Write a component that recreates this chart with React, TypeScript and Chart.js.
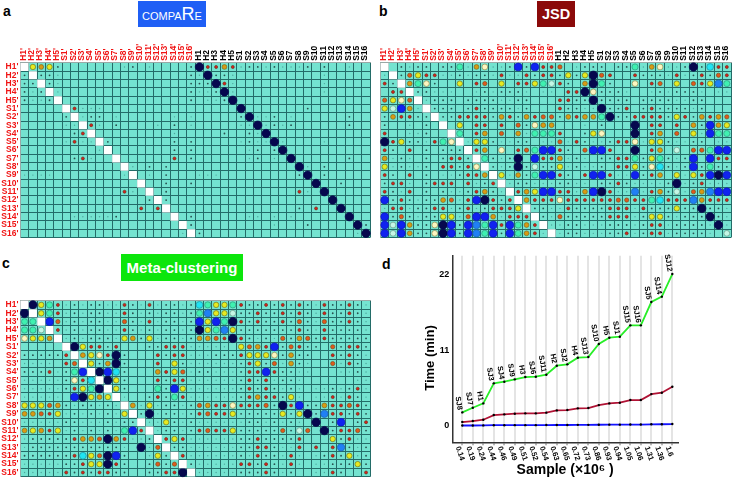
import React, { useEffect, useRef } from "react";
import { Chart, registerables } from "chart.js";

Chart.register(...registerables);

const FONT = '"Liberation Sans", Arial, sans-serif';
const baseNames = ["H1","H2","H3","H4","H5","S1","S2","S3","S4","S5","S6","S7","S8","S9","S10","S11","S12","S13","S14","S15","S16"];
const primeNames = baseNames.map((n) => n + "'");
const columnNames = [...primeNames, ...baseNames];

// Symbols in the rows, weakest to strongest. "." = empty, "#" = diagonal (white) cell.
const levelKeys = [",", ":", "r", "o", "O", "y", "w", "m", "g", "c", "l", "b", "n"];
const levelRadius = [0.7, 0.9, 1.5, 2.1, 2.4, 2.7, 2.9, 2.9, 3.1, 3.4, 3.7, 3.9, 4.2];
const levelColor = ["#4da79c", "#27504e", "#d8201a", "#e0581a", "#d89a12", "#e6ea20", "#fdf6c0", "#c4f7e6", "#3ff0b0", "#20e4f2", "#2080f4", "#1022f0", "#06084e"];
const levelBorder = ["#4da79c", "#27504e", "#70301c", "#805020", "#806a20", "#70781c", "#8a8a50", "#6a9a88", "#309a80", "#2090a0", "#1c60b0", "#1018c0", "#06084e"];

const compareRows = [
  "#yOy:.......,:.,....:|nrrOr,::,:,,,:.:..,..",
  ":#::,...............:|,n::,..........,.....",
  "::#:,...............:|::nr,..........,.....",
  ":,:#,...............:|,,:n,..........,.....",
  ":,,:#...............:|.,,:n................",
  ".....#r,,,...........|.....n.......:.......",
  ".....:#,::.,......,.,|.....:n,,:.,......:..",
  ".....,,#r,.:....,.:.,|.....,,n,:,:......:..",
  "......:r#.........,..|...:..:,n............",
  ".....,r,,#:.......:.:|.....,:,,n,....,.....",
  ".........,#.......:.:|......,:.:n..........",
  "......:r,..#......r.:|......,:.,.n......:..",
  "............#,.:.:...|............n,.:.....",
  ",,,,........,#.,.:...|,,,.........:n.:.....",
  "..............#..:..:|..............n..:...",
  "............r,.#.:...|............r,.n.....",
  "...............:#:...|................n....",
  "..............r.r#...|............:.r..n...",
  "......,,,,,:......#.:|......,,.,.,......n..",
  "...................#:|.........,...:.....n:",
  "...................,#|:..................,n",
];

const jsdRows = [
  "#.:,::.::g,Ow,,:b:brr|o.,:::.::g,Ow,,:n:crr",
  ",#:oyrr,,:,::,r,,r:rr|:y:ynor..r:::,r,:r:or",
  "r:#Ogw:..y.ro.y.rrygm|r:.Ong:..w.ro.y.orylg",
  ".rr#::,,,..,:,:::,.,,|.rrnw:::,..,:,:::,.,,",
  "oywo#,:::.::::,,::...|rr::n::::.::::,,::...",
  "ymbO,#:::.:r::::,:...|r::,,n::r.:r::::,:...",
  ":Orr::#::rrrr:Or:Oroo|:OrOOgn::rrrr:yr:OrOo",
  ":..,.:.#.y.rr.r.o:wOO|...,.:...n.rr.r.O:bOy",
  "r..,,:..#g.rO.o.O,ggg|r..:yw...n.rO.o.y,bgg",
  "nry::,rgw#,yy:,,::.,,|o,r:,,:rrw,yy:,,::.,,",
  "r:.r.:.:::#rO.w.rogbb|r:.obbr..n.rO.m.oogbb",
  "O,:,.:.:rr:#g:,:n.brr|O,:,.::rrg:yg:,:b.brr",
  "y,:,,:.rr:rw#:,:n:m::|y,:,,:.rry:wc:,:b:g::",
  "r:.r.:.,,:rrO#y,O:gbb|r:.rbbr,,b:rO.y,yrbnb",
  ":rr,.:rrr.r,:r#,::,,,|::,,.::r:,,,,:n,:r,,,",
  "r:,r.:.:,,:rO:,#rOybb|rr,Obnr,,l,rO:m,oOlbb",
  "b:r:,::Oo,rbnr:r#Orrr|wrrrrrroorrgcrrrlOrrr",
  ",rr,::rr,:r,:rrry#::,|,r::::rrr,r:::y::n::,",
  "b:o:,::yy,obbO,rrr#:,|o:::::rrr,:yy:,:::n:,",
  "bmbO::wnb:blgbrbgOr#,|,::,,,:::,:rr,::::,n,",
  "bmbO::wnb:blgb:bgOr,#|,::,,,::r,:rr,::::,.m",
];

const metaRows = [
  "#nygr,:,::,,r:,r,::,:|cgyygr::r:r:r:,r::r:,",
  "n#ygr,:,::,,r:,:,::,:|glyym::r::r:r:,r::r:,",
  "gg#bo,:,::,,o:,r,::,:|bybgnr:r::r:o:,o::r:,",
  "ggm#r,:,::,,r:,:,::,:|nygly:::::::r:,r::::,",
  "wyyO#,:,:::,yO:y,::,:|OOornr:,:,o:Oo:r:::::",
  ".....#nyrr:r...::rrr,|,,,,.yoOrb:or::.o:rr:",
  ":::::r#Oywrn:...r:rr,|,,:::ryyyw:O::..r:r:,",
  ",,,,.ro#y:On:...r.y:,|,,,,,:ry:o,O:,..o,r:,",
  ":::r,:gb#nbc:...Oryo,|::,,,:rrbr::,,...,,:,",
  ",,,,,:wrc#ny:...r:rr,|,,,,,:r:r,::,......,,",
  ",,,,,:rygn#y:...g:by,|,,,,,:r:r:,:,.,,:,:r,",
  ",,,,,.bnyOy#,..:r:gr,|,,,,,:rOrr:y,.,,r,r:,",
  "yyyoO:,::,:,#O,y,::,:|oOrrwrrro:nrb::Orror:",
  "OOory,:,:,:,y#:n,::,:|rorry:::::y:yn:lrr:r:",
  ",,,,,::,,,:,::#,,y:,:|,,,,,,::,:,:,.n.:b.:r",
  "OyOry,:,:,:,gbr#,::,:|rorry:::::o:mo.n:rro:",
  ",:::::rOOonOr,,:#ryr,|,,,,,::r::::r...y:r,,",
  ",:::::::::::,.n,o#::,|,,,,,::rr:,,r.r.rl:,:",
  "::::::rcyonb:..,y:#r,|,,,,,:,r::,r,.,:r:y,:",
  ",,,,,::ryynr:..:o:o#:|,,,,,rr:r:,r,.,,:::y:",
  ",,,,,r:r:rr::..::rrn#|,,,,,:::r:,:..,,r:..r",
];

// Panel d
const sampleSizes = ["0.14","0.19","0.24","0.44","0.46","0.49","0.51","0.52","0.54","0.63","0.65","0.72","0.73","0.86","0.93","0.94","1.05","1.06","1.31","1.36","1.6"];
const sampleNames = ["SJ8","SJ7","H1","SJ3","SJ4","SJ9","H3","SJ6","SJ11","H2","SJ2","H4","SJ13","SJ10","H5","SJ1","SJ15","SJ16","SJ5","SJ14","SJ12"];
const metaTime = [1.94,2.62,3.25,6.17,6.41,6.75,7.09,7.14,7.43,8.74,8.94,9.91,10.0,11.9,12.82,12.97,14.62,14.62,18.02,18.8,22.1];
const jsdTime = [0.53,0.68,0.87,1.55,1.65,1.75,1.8,1.8,1.9,2.23,2.28,2.53,2.57,3.0,3.25,3.35,3.74,3.74,4.6,4.8,5.68];
const compareTime = [0.03,0.03,0.04,0.07,0.07,0.08,0.08,0.08,0.09,0.1,0.1,0.12,0.12,0.14,0.15,0.15,0.17,0.17,0.2,0.21,0.24];
const timeTicks = [0, 11, 22];

const cellBackground = {
  id: "cellBackground",
  beforeDraw(chart: any) {
    const { ctx, chartArea: a } = chart;
    ctx.save();
    ctx.fillStyle = "#74e3d0";
    ctx.fillRect(a.left, a.top, a.right - a.left, a.bottom - a.top);
    ctx.restore();
  },
};

function matrixDatasets(rows: string[]) {
  const cells = rows.map((r) => r.replace("|", ""));
  const at = (key: string) => {
    const out: any[] = [];
    cells.forEach((row, j) =>
      row.split("").forEach((c, i) => {
        if (c === key) out.push({ x: columnNames[i], y: primeNames[j], r: key === "#" ? 5.7 : levelRadius[levelKeys.indexOf(key)] });
      })
    );
    return out;
  };
  return [
    { data: at("#"), pointStyle: "rect", backgroundColor: "#ffffff", borderColor: "#ffffff", borderWidth: 0 },
    ...levelKeys.map((key, k) => ({
      data: at(key),
      pointStyle: "circle",
      backgroundColor: levelColor[k],
      borderColor: levelBorder[k],
      borderWidth: k < 2 ? 0 : 0.7,
    })),
  ];
}

const noPadding = (s: any) => {
  s.paddingLeft = 0;
  s.paddingRight = 0;
  s.paddingTop = 0;
  s.paddingBottom = 0;
};

type MatrixProps = { rows: string[]; left: number; top: number; width: number; height: number; axisW: number; axisH: number; padBottom: number; padRight: number; showX: boolean; showY: boolean };

function Matrix(p: MatrixProps) {
  const ref = useRef<HTMLCanvasElement>(null);
  useEffect(() => {
    const chart = new Chart(ref.current as any, {
      type: "bubble",
      data: { datasets: matrixDatasets(p.rows) as any },
      plugins: [cellBackground],
      options: {
        animation: false,
        responsive: false,
        layout: { autoPadding: false, padding: { top: 0, left: 0, right: p.padRight, bottom: p.padBottom } },
        plugins: { legend: { display: false }, tooltip: { enabled: false } },
        scales: {
          x: {
            type: "category",
            labels: columnNames,
            position: "top",
            offset: true,
            grid: { offset: true, color: "#236c68", lineWidth: 1, drawTicks: false },
            border: { color: "#9aa8a6", width: 1 },
            afterFit: (s: any) => { s.height = p.axisH; noPadding(s); },
            ticks: {
              display: p.showX,
              autoSkip: false,
              minRotation: 90,
              maxRotation: 90,
              padding: 2,
              labelOffset: 9,
              font: { family: FONT, size: 8.5, weight: "bold" },
              color: (c: any) => (c.index < 21 ? "#f01414" : "#000000"),
            },
          },
          y: {
            type: "category",
            labels: primeNames,
            offset: true,
            grid: { offset: true, color: "#236c68", lineWidth: 1, drawTicks: false },
            border: { color: "#9aa8a6", width: 1 },
            afterFit: (s: any) => { s.width = p.axisW; noPadding(s); },
            ticks: {
              display: p.showY,
              autoSkip: false,
              padding: 2,
              font: { family: FONT, size: 8.5, weight: "bold" },
              color: "#f01414",
            },
          },
        },
      } as any,
    });
    return () => chart.destroy();
  }, []);
  return <canvas ref={ref} width={p.width} height={p.height} style={{ position: "absolute", left: p.left, top: p.top, width: p.width, height: p.height }} />;
}

const lineLabels = {
  id: "lineLabels",
  afterDraw(chart: any) {
    const { ctx, scales } = chart;
    ctx.save();
    ctx.fillStyle = "#000";
    ctx.font = `bold 7.5px ${FONT}`;
    ctx.textBaseline = "middle";
    sampleSizes.forEach((t, i) => {
      ctx.save();
      ctx.translate(scales.x.getPixelForValue(i) - 4.5, 446.5 - 245);
      ctx.rotate((72 * Math.PI) / 180);
      ctx.textAlign = "left";
      ctx.fillText(t, 0, 0);
      ctx.restore();
    });
    sampleNames.forEach((t, i) => {
      ctx.save();
      ctx.translate(scales.x.getPixelForValue(i) - 2.5, scales.y.getPixelForValue(metaTime[i]) - 2.5);
      ctx.rotate((80 * Math.PI) / 180);
      ctx.textAlign = "right";
      ctx.fillText(t, 0, 0);
      ctx.restore();
    });
    ctx.restore();
  },
};

function TimeChart() {
  const ref = useRef<HTMLCanvasElement>(null);
  useEffect(() => {
    const series = (values: number[], color: string) => ({
      data: values.map((v, i) => ({ x: i, y: v })),
      borderColor: color,
      borderWidth: 1.8,
      pointRadius: 1.2,
      pointBackgroundColor: "#000",
      pointBorderWidth: 0,
      tension: 0,
    });
    const chart = new Chart(ref.current as any, {
      type: "line",
      data: { datasets: [series(compareTime, "#1414ff"), series(jsdTime, "#b01234"), series(metaTime, "#28ee28")] as any },
      plugins: [lineLabels],
      options: {
        animation: false,
        responsive: false,
        layout: { autoPadding: false, padding: { top: 10.7, right: 55, left: 0, bottom: 0 } },
        plugins: { legend: { display: false }, tooltip: { enabled: false } },
        scales: {
          x: {
            type: "linear",
            min: -0.952,
            max: 20.54,
            afterBuildTicks: (s: any) => { s.ticks = sampleSizes.map((_, i) => ({ value: i })); },
            afterFit: (s: any) => { s.height = 36.7; noPadding(s); },
            grid: { color: "#e4e4e4", lineWidth: 2, tickLength: 3, tickColor: "#444", tickWidth: 0.8 },
            border: { color: "#333", width: 1.5 },
            ticks: { display: false },
            title: { display: true, text: "Sample (×10⁶ )", color: "#000", padding: { top: 0, bottom: 0 }, font: { family: FONT, size: 14, weight: "bold" } },
          },
          y: {
            type: "linear",
            min: -2.42,
            max: 24.77,
            afterBuildTicks: (s: any) => { s.ticks = timeTicks.map((v) => ({ value: v })); },
            afterFit: (s: any) => { s.width = 32.3; noPadding(s); },
            grid: { display: false, tickLength: 2 },
            border: { color: "#333", width: 1.5 },
            ticks: { autoSkip: false, padding: 1, color: "#000", font: { family: FONT, size: 9, weight: "bold" } },
            title: { display: true, text: "Time (min)\u00a0\u00a0\u00a0\u00a0\u00a0", color: "#000", padding: { top: 3, bottom: 0 }, font: { family: FONT, size: 13, weight: "bold" } },
          },
        },
      } as any,
    });
    return () => chart.destroy();
  }, []);
  return <canvas ref={ref} width={313} height={234} style={{ position: "absolute", left: 420, top: 245, width: 313, height: 234 }} />;
}

const abs = (left: number, top: number, extra: any = {}) => ({ position: "absolute", left, top, fontFamily: FONT, ...extra });
const tag = (left: number, top: number, width: number, height: number, bg: string, size: number, extra: any = {}) =>
  abs(left, top, { width, height, background: bg, color: "#fff", fontSize: size, fontWeight: "bold", display: "flex", alignItems: "center", justifyContent: "center", whiteSpace: "nowrap", ...extra });
const letter = (left: number, top: number) => abs(left, top, { fontSize: 14, fontWeight: "bold", color: "#000", lineHeight: "16px" });

export default function App() {
  return (
    <div style={{ position: "fixed", left: 0, top: 0, width: 733, height: 479, background: "#fff", overflow: "hidden" }}>
      <Matrix rows={compareRows} left={0} top={30} width={371} height={209} axisW={20.4} axisH={32.8} padBottom={1.5} padRight={0.8} showX showY />
      <Matrix rows={jsdRows} left={372} top={30} width={361} height={209} axisW={8.5} axisH={32.8} padBottom={1.5} padRight={2} showX showY={false} />
      <Matrix rows={metaRows} left={0} top={296} width={371} height={182} axisW={20.4} axisH={4.7} padBottom={1.3} padRight={0.8} showX={false} showY />
      <TimeChart />
      <div style={letter(3, 3) as any}>a</div>
      <div style={letter(379, 3) as any}>b</div>
      <div style={letter(2, 255) as any}>c</div>
      <div style={letter(382, 256) as any}>d</div>
      <div style={tag(138, 1, 68, 26, "#1f5ff5", 15, { fontVariant: "small-caps", fontWeight: 500 }) as any}>compa<span style={{ fontSize: 18 }}>R</span>e</div>
      <div style={tag(537, 1, 38, 26, "#8b0a0a", 14.5) as any}>JSD</div>
      <div style={tag(121, 254, 122, 27, "#0ce60c", 15) as any}>Meta-clustering</div>
    </div>
  );
}
